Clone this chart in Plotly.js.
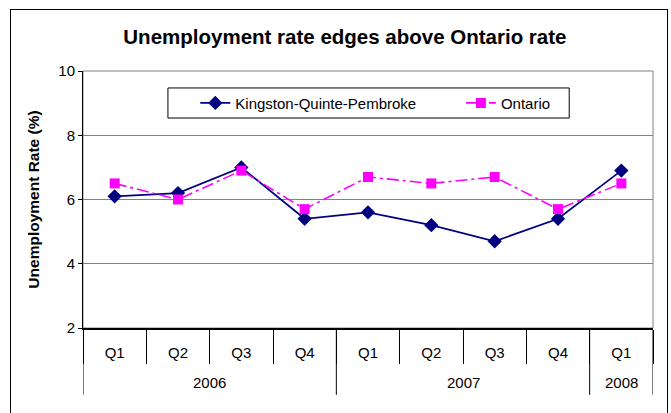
<!DOCTYPE html>
<html><head><meta charset="utf-8">
<script src="https://cdn.plot.ly/plotly-3.0.1.min.js"></script>
<style>
html,body{margin:0;padding:0;background:#fff;overflow:hidden;}
#chart{width:671px;height:413px;position:relative;}
#frame{position:absolute;left:10px;top:9px;width:656px;height:430px;border:1px solid #000;pointer-events:none;}
</style></head>
<body>
<div id="chart"></div>
<div id="frame"></div>
<script>
const years = ["2006","2006","2006","2006","2007","2007","2007","2007","2008"];
const quarters = ["Q1","Q2","Q3","Q4","Q1","Q2","Q3","Q4","Q1"];
const kingston = [6.1, 6.2, 7.0, 5.4, 5.6, 5.2, 4.7, 5.4, 6.9];
const ontario = [6.5, 6.0, 6.9, 5.7, 6.7, 6.5, 6.7, 5.7, 6.5];
const seriesNames = ["Kingston-Quinte-Pembroke", "Ontario"];

const F = "Arial, 'Liberation Sans', sans-serif";
const cats = years.map((y, i) => y + " " + quarters[i]);

const groups = [];
years.forEach((y, i) => {
  if (!groups.length || groups[groups.length - 1].year !== y) groups.push({year: y, start: i, end: i});
  else groups[groups.length - 1].end = i;
});
const shapes = [
  {type:"rect", xref:"paper", yref:"paper", x0:0, x1:1, y0:0, y1:1, line:{color:"#808080", width:1}, layer:"below"},
  {type:"rect", xref:"paper", yref:"paper", x0:0.149, x1:0.853, y0:0.817, y1:0.934, line:{color:"#000", width:1}, fillcolor:"#fff", layer:"above"}
];
const annotations = [];
groups.forEach((g, k) => {
  if (k === 0) shapes.push({type:"line", xref:"x", yref:"paper", x0:g.start - 0.5, x1:g.start - 0.5, y0:0, y1:-0.26, line:{color:"#000", width:1}});
  shapes.push({type:"line", xref:"x", yref:"paper", x0:g.end + 0.5, x1:g.end + 0.5, y0:0, y1:-0.26, line:{color:"#000", width:1}});
  annotations.push({xref:"x", yref:"paper", x:(g.start + g.end) / 2, y:-0.214, yanchor:"middle", xanchor:"center",
    text:g.year, showarrow:false, font:{family:F, size:15, color:"#000"}});
});

const traces = [
  {x:cats, y:kingston, name:seriesNames[0], type:"scatter", mode:"lines+markers", legend:"legend",
   line:{color:"#000080", width:1.7}, marker:{symbol:"diamond", size:11, color:"#000080"}},
  {x:cats, y:ontario, name:seriesNames[1], type:"scatter", mode:"lines+markers", legend:"legend2",
   line:{color:"#FF00FF", width:1.6, dash:"12px,4px,3px,4px"}, marker:{symbol:"square", size:10, color:"#FF00FF"}}
];
const legBase = {xanchor:"left", yanchor:"middle", y:0.875, borderwidth:0, bgcolor:"rgba(0,0,0,0)",
                 font:{family:F, size:15, color:"#000"}};
const layout = {
  width:671, height:413,
  margin:{l:83, r:18, t:71, b:85},
  paper_bgcolor:"#fff", plot_bgcolor:"#fff",
  font:{family:F, size:15, color:"#000"},
  title:{text:"<b>Unemployment rate edges above Ontario rate</b>", font:{family:F, size:20.5, color:"#000"},
         x:0.514, xref:"container", y:0.91, yref:"container", xanchor:"center", yanchor:"middle"},
  xaxis:{type:"category", categoryorder:"array", categoryarray:cats, range:[-0.5, cats.length - 0.5],
         tickmode:"array", tickvals:cats, ticktext:quarters,
         showline:true, linecolor:"#000", linewidth:2,
         ticks:"outside", tickson:"boundaries", ticklen:34, tickcolor:"#000", tickwidth:1,
         ticklabelstandoff:10,
         tickfont:{family:F, size:15, color:"#000"}, showgrid:false, zeroline:false},
  yaxis:{range:[2,10], dtick:2, tick0:2, showline:true, linecolor:"#000", linewidth:1,
         ticks:"outside", ticklen:4, tickcolor:"#000", showgrid:true, gridcolor:"#808080", gridwidth:1,
         zeroline:false, tickfont:{family:F, size:15, color:"#000"},
         title:{text:"<b>Unemployment Rate (%)</b>", font:{family:F, size:15.5, color:"#000"}, standoff:14}},
  showlegend:true,
  legend:Object.assign({}, legBase, {x:0.197}),
  legend2:Object.assign({}, legBase, {x:0.663}),
  shapes: shapes,
  annotations: annotations
};
Plotly.newPlot("chart", traces, layout, {displayModeBar:false, staticPlot:true});
</script>
</body></html>
